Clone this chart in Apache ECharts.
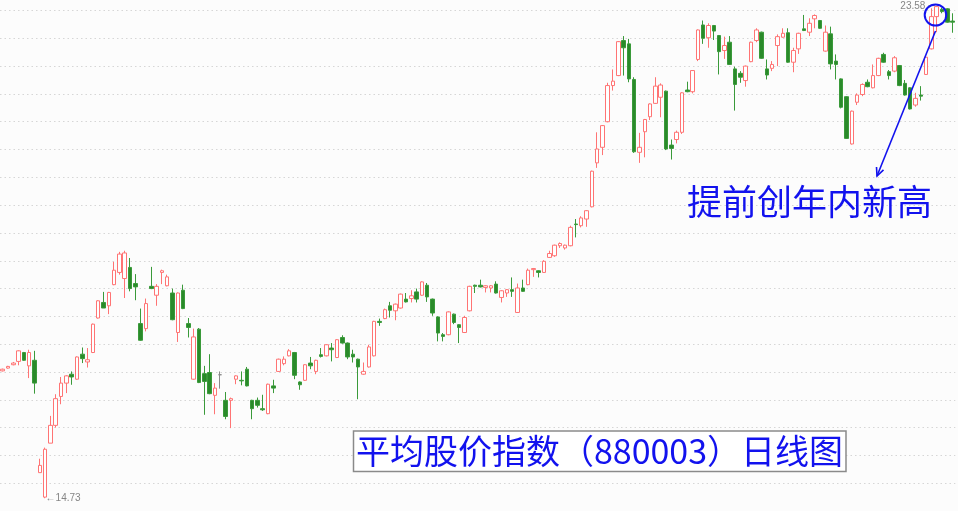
<!DOCTYPE html>
<html>
<head>
<meta charset="utf-8">
<script src="https://cdn.jsdelivr.net/npm/echarts@6/dist/echarts.min.js"></script>
<style>
html,body{margin:0;padding:0;background:#fcfcfc;}
#main{width:958px;height:511px;}
</style>
</head>
<body>
<div id="main"></div>
<script>
// Daily OHLC (平均股价指数 880003)
const opens = [
17.02,17.07,17.13,17.19,17.35,17.11,17.21,15.19,14.75,15.72,
16.04,16.56,16.80,16.96,16.87,17.32,17.18,17.35,17.97,18.25,
18.19,18.57,18.79,18.68,18.88,18.59,17.87,17.78,18.54,18.38,
18.79,18.55,18.42,17.71,18.47,17.87,16.87,17.77,16.97,16.99,
16.58,16.95,16.49,16.49,16.87,16.85,17.05,16.49,16.49,16.34,
16.25,16.75,17.01,17.15,17.29,17.35,16.82,16.85,17.16,17.01,
17.31,17.29,17.43,17.26,17.62,17.52,17.32,17.23,16.96,17.09,
17.29,17.91,17.96,18.19,18.10,18.15,18.31,18.32,18.44,18.38,
18.56,18.31,17.99,17.67,17.67,18.04,17.85,17.71,18.10,18.56,
18.56,18.52,18.51,18.58,18.34,18.42,18.48,18.07,18.51,18.57,
18.84,18.82,18.79,19.06,19.09,19.27,19.23,19.27,19.66,19.63,
19.75,19.97,20.76,21.04,21.50,22.15,22.33,22.96,22.90,22.26,
20.95,21.32,21.59,21.83,21.94,22.05,21.08,21.18,21.31,22.07,
22.04,22.62,23.24,23.01,23.23,23.05,22.78,22.93,22.45,22.37,
22.24,22.58,22.96,23.11,22.45,22.46,22.87,23.02,23.10,22.57,
22.81,23.17,23.11,23.35,23.32,22.77,23.08,22.59,22.27,21.95,
21.10,21.85,21.99,22.21,22.11,22.33,22.71,22.40,22.41,22.51,
22.19,22.11,21.80,21.98,22.35,22.81,23.39,23.52,23.53,23.31
];
const closes = [
17.05,17.10,17.16,17.38,17.21,17.35,16.80,15.32,15.61,16.04,
16.52,16.80,16.93,16.91,17.27,17.24,17.22,17.86,18.28,18.15,
18.43,18.83,19.12,19.14,18.50,18.53,17.57,18.23,18.50,18.54,
18.82,18.71,17.94,18.42,18.14,17.80,17.63,16.81,16.83,16.61,
16.71,16.95,16.20,16.52,16.93,16.84,16.75,16.34,16.40,16.32,
16.78,16.71,17.23,17.23,17.38,16.94,16.77,17.13,17.11,17.21,
17.28,17.49,17.40,17.58,17.52,17.27,17.27,17.09,17.01,17.45,
17.91,17.89,18.12,18.11,18.22,18.40,18.26,18.37,18.31,18.62,
18.35,18.06,17.70,17.64,18.08,17.89,17.80,17.98,18.54,18.54,
18.53,18.55,18.55,18.42,18.46,18.48,18.45,18.51,18.45,18.83,
18.86,18.79,18.99,19.13,19.28,19.31,19.28,19.60,19.65,19.77,
19.90,20.61,21.01,21.43,22.15,22.23,22.94,22.83,22.27,20.96,
21.04,21.54,21.82,22.14,22.16,21.01,21.02,21.31,22.02,22.04,
22.42,23.15,23.00,23.23,23.13,22.76,22.87,22.53,22.17,22.30,
22.50,22.93,23.15,22.64,22.34,22.53,23.03,23.09,22.57,22.78,
23.09,23.14,23.27,23.41,23.18,23.11,22.54,22.53,21.76,21.20,
21.69,21.98,22.17,22.13,22.33,22.64,22.57,22.33,22.65,22.15,
21.98,21.73,21.92,21.96,22.66,23.39,23.57,23.48,23.29,23.29
];
const lows = [
17.01,17.06,17.12,17.12,17.20,16.89,16.61,15.19,14.73,15.72,
16.00,16.42,16.62,16.77,16.86,17.16,17.08,17.34,17.96,18.15,
18.04,18.56,18.75,18.33,18.45,18.29,17.56,17.73,18.49,18.19,
18.58,18.54,17.93,17.54,18.13,17.62,16.86,16.80,16.23,16.60,
16.24,16.70,16.15,15.99,16.78,16.76,16.74,16.15,16.36,16.30,
16.24,16.62,17.00,17.12,17.28,16.87,16.68,16.84,17.05,16.96,
17.26,17.28,17.19,17.25,17.51,17.23,17.17,16.51,16.95,17.08,
17.28,17.83,17.95,17.98,17.93,18.14,18.25,18.25,18.25,18.37,
18.26,18.01,17.55,17.55,17.66,17.86,17.52,17.70,18.09,18.42,
18.52,18.43,18.43,18.41,18.25,18.35,18.35,18.06,18.44,18.56,
18.71,18.70,18.78,19.05,19.07,19.23,19.20,19.26,19.42,19.60,
19.61,19.96,20.67,20.90,21.49,22.06,22.32,22.33,22.21,20.94,
20.76,20.86,21.53,21.82,21.58,20.99,20.82,21.11,21.28,22.03,
22.01,22.59,22.90,22.83,22.97,22.35,22.63,22.52,21.70,22.20,
22.13,22.57,22.93,22.63,22.26,22.41,22.50,23.01,22.56,22.39,
22.72,23.13,23.04,23.18,23.17,22.76,22.44,22.26,21.74,21.19,
21.09,21.80,21.96,22.12,22.10,22.32,22.56,22.26,22.39,22.14,
21.97,21.72,21.77,21.88,22.34,22.80,23.11,23.45,23.28,23.10
];
const highs = [
17.06,17.11,17.18,17.39,17.36,17.40,17.38,15.44,15.64,16.21,
16.60,16.91,16.94,17.01,17.28,17.44,17.43,17.87,18.29,18.44,
18.44,18.98,19.16,19.18,19.05,18.76,18.14,18.32,18.89,18.58,
18.84,18.75,18.50,18.43,18.57,17.97,17.78,17.79,17.11,17.32,
16.80,17.01,16.64,16.54,16.94,17.01,17.09,16.50,16.54,16.59,
16.79,16.86,17.24,17.28,17.41,17.36,16.83,17.14,17.27,17.22,
17.43,17.50,17.52,17.59,17.66,17.53,17.40,17.24,17.17,17.49,
17.92,17.96,18.14,18.26,18.23,18.41,18.42,18.47,18.50,18.63,
18.60,18.32,18.00,17.70,18.09,18.05,17.86,18.01,18.55,18.57,
18.66,18.56,18.56,18.63,18.47,18.49,18.70,18.59,18.66,18.86,
18.87,18.83,19.01,19.18,19.29,19.33,19.29,19.63,19.75,19.80,
19.91,20.62,21.31,21.44,22.20,22.44,22.95,23.04,22.99,22.30,
21.30,21.55,21.83,22.30,22.19,22.06,21.18,21.34,22.03,22.22,
22.43,23.16,23.32,23.27,23.24,23.06,23.03,23.04,22.49,22.41,
22.51,22.94,23.18,23.12,22.62,22.59,23.07,23.18,23.18,22.83,
23.10,23.42,23.36,23.43,23.33,23.23,23.21,22.71,22.28,21.96,
21.70,22.01,22.19,22.26,22.53,22.65,22.74,22.43,22.68,22.52,
22.25,22.12,22.02,22.14,22.67,23.54,23.58,23.55,23.54,23.45
];
const days = opens.map((_, i) => 'D' + (i + 1));
const yMin = 14.5, yMax = 23.5, yStep = 0.5;
const titleText = '平均股价指数（880003）日线图';
const noteText = '提前创年内新高';

const ohlc = opens.map((o, i) => [o, closes[i], lows[i], highs[i]]);
const iMax = highs.indexOf(Math.max(...highs));
const iMin = lows.indexOf(Math.min(...lows));

const chart = echarts.init(document.getElementById('main'), null, {renderer: 'canvas'});
const BLUE = '#1212ee';
const extremeLabel = {color: '#666', fontSize: 10, fontFamily: 'Liberation Sans, Arial'};
chart.setOption({
  backgroundColor: '#fcfcfc',
  animation: false,
  grid: {left: -3.26, right: 2.7, top: 10.5, bottom: -4.8, containLabel: false},
  xAxis: {
    type: 'category', data: days, boundaryGap: true,
    axisLine: {show: false}, axisTick: {show: false}, axisLabel: {show: false},
    splitLine: {show: false}
  },
  yAxis: {
    type: 'value', min: yMin, max: yMax, interval: yStep, scale: true,
    axisLine: {show: false}, axisTick: {show: false}, axisLabel: {show: false},
    splitLine: {show: true, lineStyle: {color: '#d6d6d6', width: 1, type: [1.5, 3]}}
  },
  series: [{
    type: 'candlestick',
    data: ohlc,
    barWidth: 4,
    clip: false,
    itemStyle: {
      color: '#ffffff',
      color0: '#2a8a2a',
      borderColor: '#ff7474',
      borderColor0: '#3a9a3a',
      borderColorDoji: '#8a8a8a',
      borderWidth: 1
    }
  }, {
    type: 'scatter',
    clip: false,
    silent: true,
    symbol: 'circle',
    symbolSize: 1,
    itemStyle: {color: 'rgba(0,0,0,0)'},
    data: [
      {value: [days[iMax], highs[iMax]],
        label: Object.assign({show: true, position: 'left', distance: 1,
          formatter: p => p.value[1].toFixed(2) + ' ─'}, extremeLabel)},
      {value: [days[iMin], lows[iMin]],
        label: Object.assign({show: true, position: 'right', distance: 0,
          formatter: p => '←' + p.value[1].toFixed(2)}, extremeLabel)}
    ],
    z: 5
  }],
  graphic: [
    {type: 'ellipse', shape: {cx: 935.5, cy: 15, rx: 10.8, ry: 10.5},
      style: {fill: 'none', stroke: BLUE, lineWidth: 2}, z: 100},
    {type: 'line', shape: {x1: 935.5, y1: 31, x2: 877, y2: 176},
      style: {stroke: BLUE, lineWidth: 1.6}, z: 100},
    {type: 'polyline', shape: {points: [[883.5, 169.8], [877, 176], [876.5, 167]]},
      style: {fill: 'none', stroke: BLUE, lineWidth: 1.6}, z: 100},
    {type: 'text', z: 100,
      style: {text: noteText, x: 687, y: 202, fill: BLUE,
        font: '35px "Noto Sans CJK SC"', align: 'left', verticalAlign: 'middle',
        textAlign: 'left', textVerticalAlign: 'middle'}},
    {type: 'rect', z: 100, shape: {x: 353.5, y: 431, width: 492.5, height: 40.5},
      style: {fill: '#ffffff', stroke: '#8a8a8a', lineWidth: 1.5}},
    {type: 'text', z: 101,
      style: {text: titleText, x: 599.5, y: 451.5, fill: BLUE,
        font: '34px "Noto Sans CJK SC"', align: 'center', verticalAlign: 'middle',
        textAlign: 'center', textVerticalAlign: 'middle'}}
  ]
});
</script>
</body>
</html>
